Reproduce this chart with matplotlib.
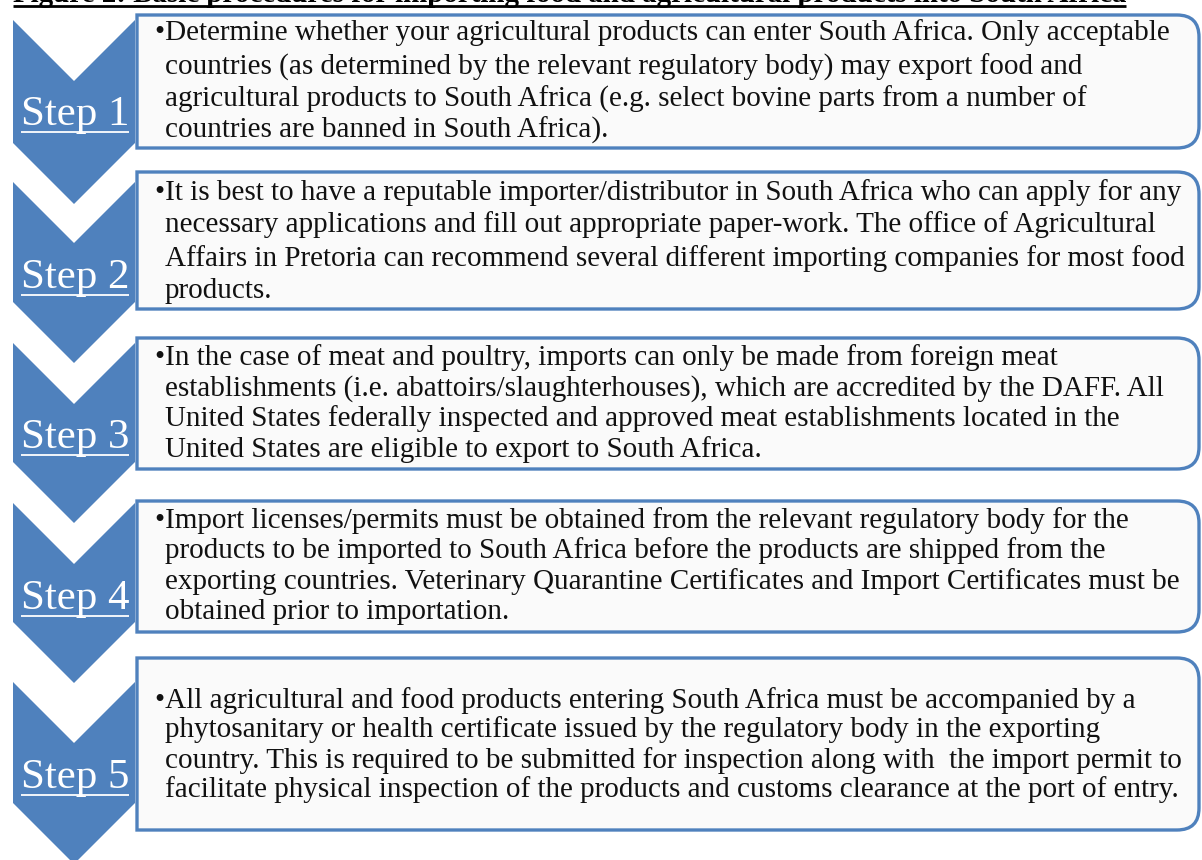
import matplotlib
matplotlib.use("Agg")
import matplotlib.pyplot as plt
from matplotlib.patches import Polygon, PathPatch
from matplotlib.path import Path

# diagram content
title = "Figure 2: Basic procedures for importing food and agricultural products into South Africa"
step_labels = ["Step 1", "Step 2", "Step 3", "Step 4", "Step 5"]
step_texts = [
    ["\u2022Determine whether your agricultural products can enter South Africa. Only acceptable",
     "countries (as determined by the relevant regulatory body) may export food and",
     "agricultural products to South Africa (e.g. select bovine parts from a number of",
     "countries are banned in South Africa)."],
    ["\u2022It is best to have a reputable importer/distributor in South Africa who can apply for any",
     "necessary applications and fill out appropriate paper-work. The office of Agricultural",
     "Affairs in Pretoria can recommend several different importing companies for most food",
     "products."],
    ["\u2022In the case of meat and poultry, imports can only be made from foreign meat",
     "establishments (i.e. abattoirs/slaughterhouses), which are accredited by the DAFF. All",
     "United States federally inspected and approved meat establishments located in the",
     "United States are eligible to export to South Africa."],
    ["\u2022Import licenses/permits must be obtained from the relevant regulatory body for the",
     "products to be imported to South Africa before the products are shipped from the",
     "exporting countries. Veterinary Quarantine Certificates and Import Certificates must be",
     "obtained prior to importation."],
    ["\u2022All agricultural and food products entering South Africa must be accompanied by a",
     "phytosanitary or health certificate issued by the regulatory body in the exporting",
     "country. This is required to be submitted for inspection along with  the import permit to",
     "facilitate physical inspection of the products and customs clearance at the port of entry."],
]

# layout (pixels, y downwards)
chev_top = [20, 182, 343, 503, 682]
chev_side = [143, 302, 462, 622, 803]
box_top = [15, 172, 338, 501, 658]
box_bot = [148, 309, 469, 632, 830]
label_base = [125, 288, 448, 609, 788]
line_base = [[40, 75, 107, 138], [200, 232, 266, 298], [365, 396, 426, 457],
             [528, 558, 589, 619], [708, 737, 768, 797]]

BLUE = "#4f81bd"
FONT = "Liberation Serif"

fig = plt.figure(figsize=(12.02, 8.60), dpi=100)
ax = fig.add_axes([0, 0, 1, 1])
ax.set_xlim(0, 1202)
ax.set_ylim(860, 0)
ax.axis("off")


def box_path(x0, x1, y0, y1, r):
    verts = [(x0, y0), (x1 - r, y0), (x1, y0), (x1, y0 + r),
             (x1, y1 - r), (x1, y1), (x1 - r, y1), (x0, y1), (x0, y0)]
    codes = [Path.MOVETO, Path.LINETO, Path.CURVE3, Path.CURVE3,
             Path.LINETO, Path.CURVE3, Path.CURVE3, Path.LINETO, Path.CLOSEPOLY]
    return Path(verts, codes)


fig.canvas.draw()
renderer = fig.canvas.get_renderer()
inv = ax.transData.inverted()


def underline(t, y, color, lw):
    bb = t.get_window_extent(renderer)
    (xa, _), (xb, _) = inv.transform([(bb.x0, bb.y0), (bb.x1, bb.y0)])
    ax.plot([xa, xb], [y, y], color=color, lw=lw, solid_capstyle="butt")


# title, cut off at the top as in the source document; sized to span ~1115 px
tt = ax.text(13, 2, title, fontsize=20, fontweight="bold", family=FONT,
             ha="left", va="baseline", color="black")
w = tt.get_window_extent(renderer).width
tt.set_fontsize(20 * 1115 / w)
underline(tt, 5.5, "black", 2.0)

xl, xr = 13, 135
xm = (xl + xr) / 2
depth = (xr - xl) / 2
for i in range(5):
    t0, s0 = chev_top[i], chev_side[i]
    pts = [(xl, t0), (xm, t0 + depth), (xr, t0), (xr, s0), (xm, s0 + depth), (xl, s0)]
    ax.add_patch(Polygon(pts, closed=True, facecolor=BLUE, edgecolor="none", zorder=1))

    ax.add_patch(PathPatch(box_path(137, 1199, box_top[i], box_bot[i], 22),
                           facecolor="#fafafa", edgecolor=BLUE, lw=2.4, zorder=2))

    lt = ax.text(xm + 1, label_base[i], step_labels[i], fontsize=31, family=FONT,
                 color="white", ha="center", va="baseline", zorder=3)
    underline(lt, label_base[i] + 7, "white", 1.3)

    for j, line in enumerate(step_texts[i]):
        x = 155 if j == 0 else 165
        ax.text(x, line_base[i][j], line, fontsize=21, family=FONT, color="#111111",
                ha="left", va="baseline", zorder=3)

fig.savefig("out.png", dpi=100)
